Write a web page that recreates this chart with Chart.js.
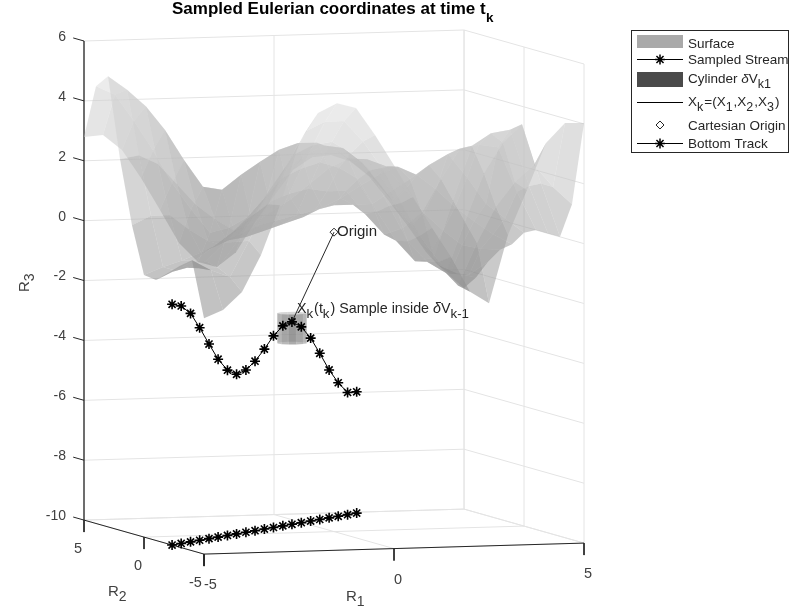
<!DOCTYPE html>
<html>
<head>
<meta charset="utf-8">
<title>Sampled Eulerian coordinates</title>
<script src="https://cdn.jsdelivr.net/npm/chart.js@4/dist/chart.umd.min.js"></script>
<style>
  html, body { margin: 0; padding: 0; background: #fff; }
  canvas { display: block; filter: blur(0.4px); }
</style>
</head>
<body>
<canvas id="grafico" width="792" height="614"></canvas>
<script>
const r1Ticks = [-5, 0, 5];
const r2Ticks = [5, 0, -5];
const r3Ticks = [-10, -8, -6, -4, -2, 0, 2, 4, 6];

const surfaceR1 = [-5, -4.5, -4, -3.5, -3, -2.5, -2, -1.5, -1, -0.5, 0, 0.5, 1, 1.5, 2, 2.5, 3, 3.5, 4, 4.5, 5];
const surfaceR2 = [-5, -4, -3, -2, -1, 0, 1, 2, 3, 4, 5];
// one row per surfaceR2 value
const surfaceR3 = [
  [-2.12, -1.87, -1.28, -0.07, 1.58, 3.63, 4.62, 4.93, 4.75, 3.83, 2.8, 1.72, 0.67, -0.32, -1.5, -1.9, 0.36, 1.85, 3.4, 4.05, 4.03],
  [-0.3, -0.65, -0.9, 0.3, 1.5, 2.8, 3.9, 4.2, 4.2, 3.5, 2.6, 1.4, 0.3, -0.6, -1.4, 0, 1.2, 2, 2.55, 1.8, 1.2],
  [-0.6, -0.7, -0.7, 0.15, 1.1, 2.1, 3, 3.3, 3.4, 3, 2.4, 1.2, 0, -0.7, -1.1, 0.6, 2.2, 3.2, 3.8, 1.8, 0],
  [-0.95, -0.8, -0.6, 0, 0.7, 1.4, 2.1, 2.4, 2.6, 2.4, 2, 0.9, -0.1, -0.8, -0.7, 1.2, 3, 3.4, 3.5, 1.6, 0],
  [-1.3, -1, -0.7, -0.25, 0.2, 0.7, 1.2, 1.45, 1.6, 1.5, 1.5, 0.7, 0, 0.2, 0.7, 1.8, 2.8, 2.9, 2.8, 1.3, 0],
  [-1.25, -1, -0.8, -0.55, -0.3, 0, 0.3, 0.45, 0.6, 0.75, 0.9, 0.9, 0.9, 1.3, 1.7, 2.15, 2.5, 1.7, 0.8, 0.3, -0.2],
  [0.3, 0.6, 0.6, 0.1, -0.3, -0.3, -0.2, 0, 0.2, 0.4, 0.7, 1, 1.4, 1.75, 2, 1.7, 1.2, 0.6, 0.1, -0.35, -0.7],
  [2.4, 2.5, 2.2, 1.5, 0.8, 0.3, -0.1, 0.1, 0.5, 0.9, 1.4, 1.9, 2.2, 2.15, 1.9, 1.1, 0.3, -0.3, -0.8, -0.95, -1],
  [5.05, 4.58, 4, 3.2, 2.18, 1.27, 1.15, 1.63, 2.05, 2.43, 2.64, 2.63, 2.37, 1.86, 1.34, 0.58, -0.24, -1.1, -1.88, -1.93, -1.51],
  [4.6, 4.3, 3.4, 2.4, 1.3, 0.4, -0.4, -0.25, 0.1, 0.8, 1.6, 2.1, 2.4, 2.3, 1.8, 1, 0.1, -0.9, -1.7, -2, -2.15],
  [2.79, 2.84, 2.32, 1.37, 0.28, -0.84, -1.49, -1.68, -1.2, -0.21, 0.64, 1.49, 1.9, 1.95, 1.73, 1.2, 0.4, -0.46, -1.38, -2.06, -2.62]
];

const streamR1 = [-5, -4.65, -4.29, -3.94, -3.58, -3.23, -2.87, -2.52, -2.16, -1.81, -1.45, -1.1, -0.74, -0.39, -0.03, 0.33, 0.68, 1.04, 1.39, 1.75, 2.1];
const streamR2 = [-2.34, -1.99, -1.63, -1.28, -0.92, -0.57, -0.21, 0.14, 0.5, 0.85, 1.21, 1.56, 1.92, 2.27, 2.63, 2.99, 3.34, 3.7, 4.05, 4.41, 4.76];
const streamR3 = [-1.96, -2.07, -2.37, -2.9, -3.5, -4.06, -4.48, -4.67, -4.58, -4.34, -3.99, -3.6, -3.32, -3.24, -3.46, -3.89, -4.45, -5.06, -5.54, -5.92, -5.95];

const sampleIndex = 13;
const cylinderAngles = [0, 30, 60, 90, 120, 150, 180, 210, 240, 270, 300, 330];
const cylinderRadius = 0.38;
const cylinderR3 = [-3.95, -2.95];

const legendRows = ['Surface', 'Sampled Stream', 'Cartesian Origin', 'Bottom Track'];

const corTexto = '#262626';
const corEixo = '#404040';
const corGrade = '#e4e4e4';
const fonte = '"Liberation Sans", Arial, sans-serif';

// orthographic view of the box, gives x in plot units and y in R3 units of the left edge
function projeta(r1, r2, r3) {
  const a = r1 + 5;
  const b = r2 + 5;
  return {
    x: 38 * a - 12 * b + 120,
    y: r3 + (1.1 * a + 3.4 * b - 34) / 29.94
  };
}

function linha(pontos, cor, largura) {
  return {
    data: pontos,
    showLine: true,
    borderColor: cor,
    borderWidth: largura,
    pointRadius: 0,
    clip: false
  };
}

function segmento(de, para, cor, largura) {
  return linha([projeta(...de), projeta(...para)], cor, largura);
}

function poligono(pontos, cor) {
  return {
    data: pontos.concat([pontos[0]]),
    showLine: true,
    borderWidth: 0,
    borderColor: 'transparent',
    backgroundColor: cor,
    fill: 'shape',
    pointRadius: 0,
    clip: false
  };
}

const datasets = [];

// walls and floor
r3Ticks.forEach(z => {
  datasets.push(segmento([-5, 5, z], [5, 5, z], corGrade, 1));
  datasets.push(segmento([5, 5, z], [5, -5, z], corGrade, 1));
});
r1Ticks.forEach(x => {
  datasets.push(segmento([x, 5, -10], [x, 5, 6], corGrade, 1));
  datasets.push(segmento([x, 5, -10], [x, -5, -10], corGrade, 1));
});
r2Ticks.forEach(y => {
  datasets.push(segmento([5, y, -10], [5, y, 6], corGrade, 1));
  datasets.push(segmento([-5, y, -10], [5, y, -10], corGrade, 1));
});

// axes with 3d ticks
datasets.push(segmento([-5, 5, -10], [-5, 5, 6], corTexto, 1.3));
datasets.push(segmento([-5, 5, -10], [-5, -5, -10], corTexto, 1));
datasets.push(segmento([-5, -5, -10], [5, -5, -10], corTexto, 1));
r3Ticks.forEach(z => datasets.push(segmento([-5, 5, z], [-5, 5.9, z], corTexto, 1)));
r2Ticks.forEach(y => datasets.push(segmento([-5, y, -10], [-5, y, -10.4], corTexto, 1)));
r1Ticks.forEach(x => datasets.push(segmento([x, -5, -10], [x, -5, -10.4], corTexto, 1)));

// surface, far cells first
for (let j = surfaceR2.length - 2; j >= 0; j--) {
  for (let i = 0; i < surfaceR1.length - 1; i++) {
    const z = [surfaceR3[j][i], surfaceR3[j][i + 1], surfaceR3[j + 1][i + 1], surfaceR3[j + 1][i]];
    const media = (z[0] + z[1] + z[2] + z[3]) / 4;
    const g = Math.round(Math.min(235, Math.max(120, 140 + (media + 1.5) * 13)));
    datasets.push(poligono([
      projeta(surfaceR1[i], surfaceR2[j], z[0]),
      projeta(surfaceR1[i + 1], surfaceR2[j], z[1]),
      projeta(surfaceR1[i + 1], surfaceR2[j + 1], z[2]),
      projeta(surfaceR1[i], surfaceR2[j + 1], z[3])
    ], `rgba(${g},${g},${g},0.55)`));
  }
}

// cylinder around the sample, darker where it faces the viewer
const c1 = streamR1[sampleIndex];
const c2 = streamR2[sampleIndex];
function pontoCilindro(graus, z) {
  const t = graus * Math.PI / 180;
  return projeta(c1 + cylinderRadius * Math.cos(t), c2 + cylinderRadius * Math.sin(t), z);
}
cylinderAngles.forEach((ang, i) => {
  const prox = cylinderAngles[(i + 1) % cylinderAngles.length];
  const meio = ang + 15;
  const dist = Math.abs(((meio - 253 + 540) % 360) - 180);
  const g = Math.round(100 + 80 * Math.min(dist, 90) / 90);
  datasets.push(poligono([
    pontoCilindro(ang, cylinderR3[0]),
    pontoCilindro(prox, cylinderR3[0]),
    pontoCilindro(prox, cylinderR3[1]),
    pontoCilindro(ang, cylinderR3[1])
  ], `rgba(${g},${g},${g},0.55)`));
});

// origin to sample
datasets.push(segmento([0, 0, 0], [c1, c2, streamR3[sampleIndex]], corTexto, 1));

// origin marker
datasets.push({
  data: [projeta(0, 0, 0)],
  pointStyle: 'rectRot',
  pointRadius: 4,
  pointBorderWidth: 1,
  pointBorderColor: corTexto,
  pointBackgroundColor: 'rgba(255,255,255,0)',
  clip: false
});

function comEstrelas(pontos) {
  return {
    data: pontos,
    showLine: true,
    borderColor: '#000',
    borderWidth: 1,
    pointStyle: 'star',
    pointRadius: 5,
    pointBorderWidth: 1.6,
    pointBorderColor: '#000',
    clip: false
  };
}

datasets.push(comEstrelas(streamR1.map((x, i) => projeta(x, streamR2[i], streamR3[i]))));
datasets.push(comEstrelas(streamR1.map((x, i) => projeta(x, streamR2[i], -10))));

// chart.js paints the first dataset last, so flip to keep the order above
datasets.reverse();

// text made of [string, kind], kind: 0 normal, 1 subscript, 2 italic, 3 bold
function textoRico(ctx, partes, x, y, tamanho, cor) {
  ctx.save();
  ctx.fillStyle = cor;
  ctx.textAlign = 'left';
  ctx.textBaseline = 'alphabetic';
  let px = x;
  partes.forEach(([txt, tipo]) => {
    if (tipo === 1) ctx.font = `${tamanho - 1}px ${fonte}`;
    else if (tipo === 2) ctx.font = `italic ${tamanho}px ${fonte}`;
    else if (tipo === 3) ctx.font = `bold ${tamanho}px ${fonte}`;
    else ctx.font = `${tamanho}px ${fonte}`;
    const sub = tipo === 1;
    ctx.fillText(txt, px, sub ? y + tamanho * 0.36 : y);
    px += ctx.measureText(txt).width + (sub ? 1 : 0);
  });
  ctx.restore();
}

const pluginTextos = {
  id: 'textos',
  afterDatasetsDraw(chart) {
    const ctx = chart.ctx;
    const sx = chart.scales.x;
    const sy = chart.scales.y;
    const tela = (r1, r2, r3) => {
      const p = projeta(r1, r2, r3);
      return { x: sx.getPixelForValue(p.x), y: sy.getPixelForValue(p.y) };
    };

    textoRico(ctx, [['Sampled Eulerian coordinates at time t', 3]], 172, 14, 17, '#000');
    textoRico(ctx, [['k', 3]], 486, 22, 13.5, '#000');

    r2Ticks.forEach(v => {
      const p = tela(-5, v, -10);
      textoRico(ctx, [[String(v), 0]], p.x - (v < 0 ? 15 : 10), p.y + 33, 14.5, corEixo);
    });
    r1Ticks.forEach(v => {
      const p = tela(v, -5, -10);
      textoRico(ctx, [[String(v), 0]], p.x, p.y + 35, 14.5, corEixo);
    });

    textoRico(ctx, [['R', 0], ['2', 1]], 108, 596, 15, corEixo);
    textoRico(ctx, [['R', 0], ['1', 1]], 346, 601, 15, corEixo);
    ctx.save();
    ctx.translate(29, 292);
    ctx.rotate(-Math.PI / 2);
    textoRico(ctx, [['R', 0], ['3', 1]], 0, 0, 15, corEixo);
    ctx.restore();

    const o = tela(0, 0, 0);
    textoRico(ctx, [['Origin', 0]], o.x + 3, o.y + 4, 15, corTexto);
    const s = tela(c1, c2, streamR3[sampleIndex]);
    textoRico(ctx, [['X', 0], ['k', 1], ['(t', 0], ['k', 1], [') Sample inside ', 0], ['\u03b4', 2], ['V', 0], ['k-1', 1]], s.x + 5, s.y - 9, 14.3, corTexto);

    // legend box
    ctx.save();
    ctx.fillStyle = '#fff';
    ctx.strokeStyle = '#262626';
    ctx.lineWidth = 1;
    ctx.fillRect(631.5, 30.5, 157, 122);
    ctx.strokeRect(631.5, 30.5, 157, 122);
    ctx.fillStyle = '#a9a9a9';
    ctx.fillRect(637, 35, 46, 13);
    ctx.fillStyle = '#4a4a4a';
    ctx.fillRect(637, 72, 46, 15);
    [59, 102, 143].forEach(y => {
      ctx.beginPath();
      ctx.moveTo(637, y + 0.5);
      ctx.lineTo(683, y + 0.5);
      ctx.strokeStyle = '#000';
      ctx.stroke();
    });
    const marca = { pointStyle: 'star', radius: 5, borderWidth: 1.5 };
    ctx.strokeStyle = '#000';
    ctx.lineWidth = 1.5;
    Chart.helpers.drawPoint(ctx, marca, 660, 59.5);
    Chart.helpers.drawPoint(ctx, marca, 660, 143.5);
    ctx.fillStyle = '#fff';
    ctx.strokeStyle = corTexto;
    ctx.lineWidth = 1;
    Chart.helpers.drawPoint(ctx, { pointStyle: 'rectRot', radius: 4, borderWidth: 1 }, 660, 125);
    ctx.restore();

    const xt = 688;
    textoRico(ctx, [[legendRows[0], 0]], xt, 48, 13.5, corTexto);
    textoRico(ctx, [[legendRows[1], 0]], xt, 64, 13.5, corTexto);
    textoRico(ctx, [['Cylinder ', 0], ['\u03b4', 2], ['V', 0], ['k1', 1]], xt, 83, 13.5, corTexto);
    textoRico(ctx, [['X', 0], ['k', 1], ['=(X', 0], ['1', 1], [',X', 0], ['2', 1], [',X', 0], ['3', 1], [')', 0]], xt, 106, 13.5, corTexto);
    textoRico(ctx, [[legendRows[2], 0]], xt, 130, 13.5, corTexto);
    textoRico(ctx, [[legendRows[3], 0]], xt, 148, 13.5, corTexto);
  }
};

new Chart(document.getElementById('grafico'), {
  type: 'scatter',
  data: { datasets },
  plugins: [pluginTextos],
  options: {
    responsive: false,
    animation: false,
    events: [],
    layout: { padding: { top: 41, right: 208, bottom: 49, left: 0 } },
    plugins: {
      legend: { display: false },
      tooltip: { enabled: false },
      title: { display: false }
    },
    scales: {
      x: { type: 'linear', display: false, min: 0, max: 500 },
      y: {
        type: 'linear',
        min: -11.5,
        max: 6,
        afterFit: s => { s.width = 84; },
        afterBuildTicks: s => { s.ticks = r3Ticks.map(v => ({ value: v })); },
        border: { display: false },
        grid: { display: false, drawTicks: false },
        ticks: { color: corEixo, padding: 18, labelOffset: -4, font: { family: fonte, size: 14 } }
      }
    }
  }
});
</script>
</body>
</html>
